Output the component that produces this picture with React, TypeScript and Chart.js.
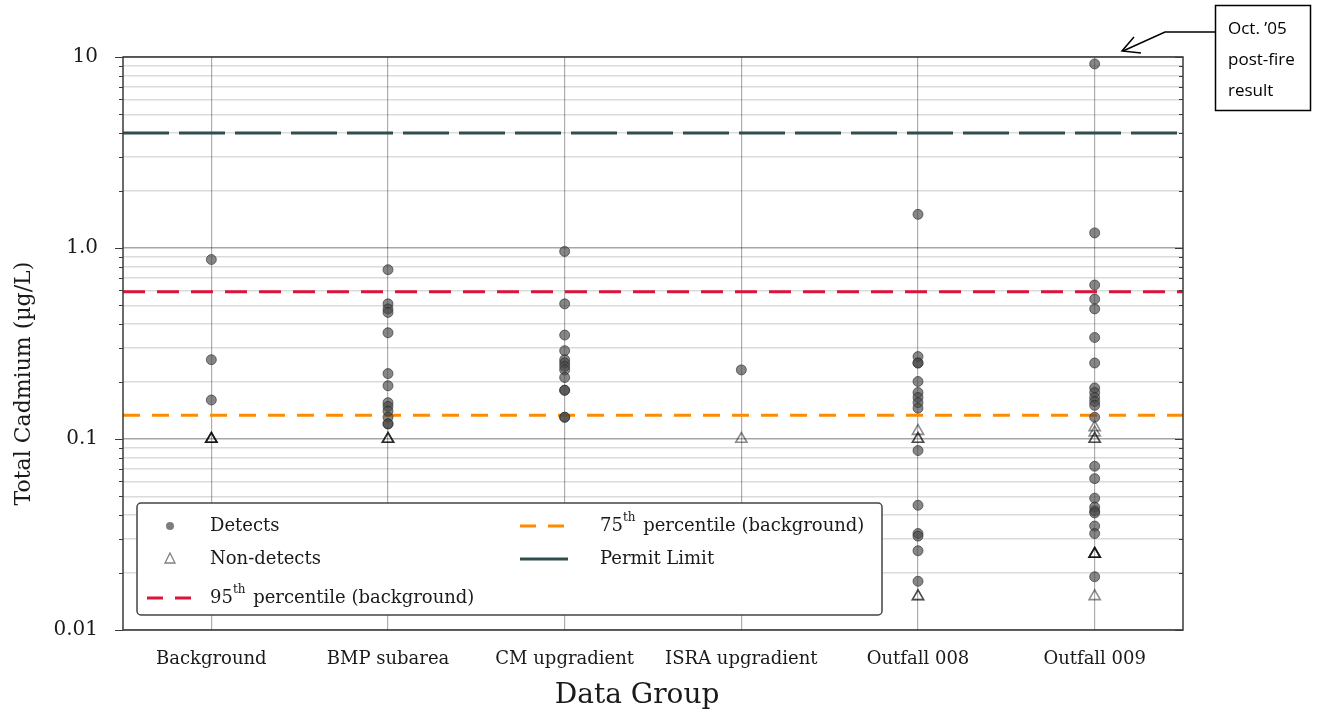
import React, { useEffect, useRef } from "react";
import { Chart, registerables } from "chart.js";

Chart.register(...registerables);

const GROUPS = ["Background", "BMP subarea", "CM upgradient", "ISRA upgradient", "Outfall 008", "Outfall 009"];

const BACKGROUND_DET = [0.87, 0.26, 0.16];
const BACKGROUND_ND = [0.1, 0.1, 0.1, 0.1];
const BMP_DET = [0.77, 0.51, 0.48, 0.46, 0.36, 0.22, 0.19, 0.155, 0.148, 0.14, 0.13, 0.12, 0.12];
const BMP_ND = [0.1, 0.1, 0.1];
const CM_DET = [0.96, 0.51, 0.35, 0.29, 0.26, 0.25, 0.24, 0.23, 0.21, 0.18, 0.18, 0.13, 0.13];
const CM_ND: number[] = [];
const ISRA_DET = [0.23];
const ISRA_ND = [0.1];
const O008_DET = [1.5, 0.27, 0.25, 0.25, 0.2, 0.175, 0.165, 0.155, 0.145, 0.087, 0.045, 0.032, 0.031, 0.026, 0.018];
const O008_ND = [0.11, 0.1, 0.1, 0.015, 0.015];
const O009_DET = [9.2, 1.2, 0.64, 0.54, 0.48, 0.34, 0.25, 0.185, 0.175, 0.165, 0.157, 0.15, 0.13, 0.072, 0.062, 0.049, 0.044, 0.042, 0.041, 0.035, 0.032, 0.019];
const O009_ND = [0.115, 0.108, 0.1, 0.1, 0.025, 0.025, 0.025, 0.025, 0.015];

const DETECTS = [BACKGROUND_DET, BMP_DET, CM_DET, ISRA_DET, O008_DET, O009_DET];
const NON_DETECTS = [BACKGROUND_ND, BMP_ND, CM_ND, ISRA_ND, O008_ND, O009_ND];

const PCT95 = 0.59;
const PCT75 = 0.133;
const PERMIT_LIMIT = 4.0;

const Y_MIN = 0.01;
const Y_MAX = 10;
const Y_TICKS = [
  0.01, 0.02, 0.03, 0.04, 0.05, 0.06, 0.07, 0.08, 0.09,
  0.1, 0.2, 0.3, 0.4, 0.5, 0.6, 0.7, 0.8, 0.9,
  1, 2, 3, 4, 5, 6, 7, 8, 9,
  10,
];
const Y_LABELS: Record<string, string> = { "0.01": "0.01", "0.1": "0.1", "1": "1.0", "10": "10" };

const X_TITLE = "Data Group";
const Y_TITLE = "Total Cadmium (\u00b5g/L)";
const NOTE_LINES = ["Oct. \u201905", "post-fire", "result"];

const SERIF = "'DejaVu Serif', serif";

const isMajor = (v: number) => Math.abs(Math.log10(v) - Math.round(Math.log10(v))) < 1e-9;

const flatten = (groups: number[][]) =>
  groups.flatMap((vals, i) => vals.map((y) => ({ x: GROUPS[i], y })));

const frameAndLegendPlugin = {
  id: "frameAndLegend",
  afterDraw(chart: any) {
    const ctx = chart.ctx as CanvasRenderingContext2D;
    const { left, right, top, bottom } = chart.chartArea;
    const yScale = chart.scales.y;
    ctx.save();
    // frame
    ctx.strokeStyle = "#3a3a3a";
    ctx.lineWidth = 1.5;
    ctx.strokeRect(left, top, right - left, bottom - top);
    // ticks
    ctx.lineWidth = 1.2;
    for (const v of Y_TICKS) {
      const y = Math.round(yScale.getPixelForValue(v)) + 0.5;
      const len = isMajor(v) ? 8 : 4;
      ctx.beginPath();
      ctx.moveTo(left - len, y);
      ctx.lineTo(left, y);
      ctx.moveTo(right, y);
      ctx.lineTo(right - len, y);
      ctx.stroke();
    }

    // axis titles
    ctx.fillStyle = "#1a1a1a";
    ctx.textAlign = "center";
    ctx.textBaseline = "middle";
    ctx.font = `28px ${SERIF}`;
    ctx.fillText(X_TITLE, left + (right - left) * 0.485, 696);
    ctx.save();
    ctx.translate(24, top + (bottom - top) * 0.57);
    ctx.rotate(-Math.PI / 2);
    ctx.font = `22px ${SERIF}`;
    ctx.fillText(Y_TITLE, 0, 0);
    ctx.restore();

    // legend
    const lx = left + 14;
    const ly = bottom - 127;
    const lw = 745;
    const lh = 112;
    ctx.fillStyle = "#ffffff";
    ctx.strokeStyle = "#444";
    ctx.lineWidth = 1.5;
    ctx.beginPath();
    (ctx as any).roundRect(lx, ly, lw, lh, 4);
    ctx.fill();
    ctx.stroke();

    ctx.font = `18px ${SERIF}`;
    ctx.fillStyle = "#1a1a1a";
    ctx.textBaseline = "middle";
    ctx.textAlign = "left";

    const drawSupText = (x: number, y: number, pre: string, sup: string, post: string) => {
      ctx.font = `18px ${SERIF}`;
      ctx.fillText(pre, x, y);
      let w = ctx.measureText(pre).width;
      ctx.font = `12px ${SERIF}`;
      ctx.fillText(sup, x + w, y - 8);
      w += ctx.measureText(sup).width + 2;
      ctx.font = `18px ${SERIF}`;
      ctx.fillText(post, x + w, y);
    };

    const r1 = ly + 23, r2 = ly + 56, r3 = ly + 95;
    // Detects marker
    ctx.fillStyle = "rgba(70,70,70,0.7)";
    ctx.beginPath();
    ctx.arc(lx + 33, r1, 4, 0, Math.PI * 2);
    ctx.fill();
    ctx.fillStyle = "#1a1a1a";
    ctx.fillText("Detects", lx + 73, r1);
    // Non-detect marker
    ctx.strokeStyle = "rgba(0,0,0,0.5)";
    ctx.lineWidth = 1.3;
    ctx.beginPath();
    ctx.moveTo(lx + 33, r2 - 6);
    ctx.lineTo(lx + 38, r2 + 4);
    ctx.lineTo(lx + 28, r2 + 4);
    ctx.closePath();
    ctx.stroke();
    ctx.fillText("Non-detects", lx + 73, r2);
    // 95th
    ctx.setLineDash([16, 12]);
    ctx.lineWidth = 3;
    ctx.strokeStyle = "#DC143C";
    ctx.beginPath();
    ctx.moveTo(lx + 10, r3);
    ctx.lineTo(lx + 58, r3);
    ctx.stroke();
    drawSupText(lx + 73, r3, "95", "th", " percentile (background)");
    // 75th
    ctx.strokeStyle = "#FF8C00";
    ctx.beginPath();
    ctx.moveTo(lx + 383, r1);
    ctx.lineTo(lx + 431, r1);
    ctx.stroke();
    drawSupText(lx + 463, r1, "75", "th", " percentile (background)");
    // permit
    ctx.setLineDash([]);
    ctx.strokeStyle = "#2F4F4F";
    ctx.beginPath();
    ctx.moveTo(lx + 383, r2);
    ctx.lineTo(lx + 431, r2);
    ctx.stroke();
    ctx.fillText("Permit Limit", lx + 463, r2);

    // annotation
    ctx.strokeStyle = "#000";
    ctx.lineWidth = 1.5;
    ctx.strokeRect(1215.5, 5.5, 95, 105);
    ctx.fillStyle = "#000";
    ctx.font = "17px 'Open Sans', sans-serif";
    NOTE_LINES.forEach((t, i) => ctx.fillText(t, 1228, 29 + i * 31));
    ctx.lineWidth = 1.5;
    ctx.beginPath();
    ctx.moveTo(1215, 32);
    ctx.lineTo(1165, 32);
    ctx.lineTo(1123, 51);
    ctx.stroke();
    ctx.beginPath();
    ctx.moveTo(1134, 37);
    ctx.lineTo(1122, 51);
    ctx.lineTo(1141, 53);
    ctx.stroke();
    ctx.restore();
  },
};

export default function App() {
  const ref = useRef<HTMLCanvasElement | null>(null);

  useEffect(() => {
    document.body.style.margin = "0";
    const canvas = ref.current;
    if (!canvas) return;

    const hLine = (v: number) => [{ x: 0, y: v }, { x: 1, y: v }];

    const chart = new Chart(canvas, {
      type: "scatter",
      data: {
        labels: GROUPS,
        datasets: [
          {
            label: "Detects",
            data: flatten(DETECTS) as any,
            pointStyle: "circle",
            pointRadius: 5,
            backgroundColor: "rgba(70,70,70,0.65)",
            borderColor: "rgba(40,40,40,0.6)",
            borderWidth: 1,
            order: 0,
          },
          {
            label: "Non-detects",
            data: flatten(NON_DETECTS) as any,
            pointStyle: "triangle",
            pointRadius: 6.5,
            backgroundColor: "rgba(0,0,0,0)",
            borderColor: "rgba(0,0,0,0.45)",
            borderWidth: 1.6,
            order: 0,
          },
          {
            type: "line",
            label: "95th percentile (background)",
            data: hLine(PCT95) as any,
            xAxisID: "xLine",
            borderColor: "#DC143C",
            borderWidth: 3,
            borderDash: [22, 12],
            pointRadius: 0,
            order: 1,
          },
          {
            type: "line",
            label: "75th percentile (background)",
            data: hLine(PCT75) as any,
            xAxisID: "xLine",
            borderColor: "#FF8C00",
            borderWidth: 3,
            borderDash: [17, 12],
            pointRadius: 0,
            order: 1,
          },
          {
            type: "line",
            label: "Permit Limit",
            data: hLine(PERMIT_LIMIT) as any,
            xAxisID: "xLine",
            borderColor: "#2F4F4F",
            borderWidth: 3,
            borderDash: [46, 10],
            pointRadius: 0,
            order: 1,
          },
        ],
      },
      options: {
        responsive: false,
        animation: false,
        layout: { padding: { top: 57, right: 151, left: 0, bottom: 0 } },
        plugins: { legend: { display: false }, tooltip: { enabled: false } },
        scales: {
          x: {
            type: "category",
            labels: GROUPS,
            offset: true,
            grid: { offset: false, color: "rgba(0,0,0,0.32)", lineWidth: 1.2, drawTicks: false },
            border: { display: false },
            ticks: { font: { family: SERIF, size: 18 }, color: "#1a1a1a", padding: 19, maxRotation: 0 },
            afterFit: (s: any) => {
              s.height = 85;
            },
          },
          xLine: {
            type: "linear",
            min: 0,
            max: 1,
            display: false,
          },
          y: {
            type: "logarithmic",
            min: Y_MIN,
            max: Y_MAX,
            afterBuildTicks: (s: any) => {
              s.ticks = Y_TICKS.map((v) => ({ value: v, major: isMajor(v) }));
            },
            grid: {
              drawTicks: false,
              color: (c: any) => (c.tick && isMajor(c.tick.value) ? "rgba(0,0,0,0.35)" : "rgba(0,0,0,0.14)"),
              lineWidth: 1.5,
            },
            border: { display: false },
            ticks: {
              autoSkip: false,
              padding: 25,
              font: { family: SERIF, size: 20 },
              color: "#1a1a1a",
              callback: (v: any) => {
                const n = Number(v);
                for (const k of Object.keys(Y_LABELS)) {
                  if (Math.abs(n - Number(k)) < 1e-9) return Y_LABELS[k];
                }
                return "";
              },
            },
            afterFit: (s: any) => {
              s.width = 123;
            },
          },
        },
      } as any,
      plugins: [frameAndLegendPlugin],
    });

    return () => chart.destroy();
  }, []);

  return (
    <div style={{ width: 1334, height: 715, background: "#fff" }}>
      <canvas ref={ref} width={1334} height={715} style={{ display: "block" }} />
    </div>
  );
}
